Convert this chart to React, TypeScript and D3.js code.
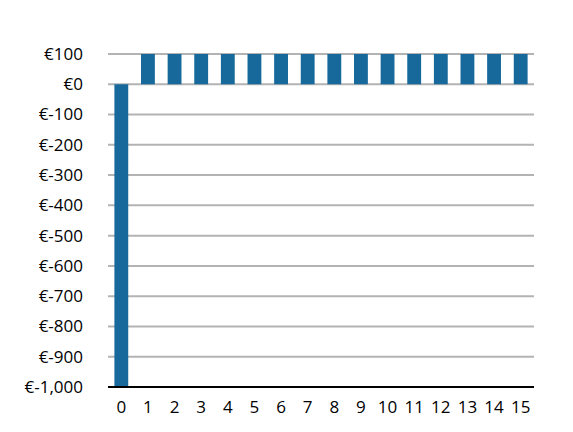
import React from 'react';
import * as d3 from 'd3';

const years = d3.range(0, 16).map(String);
const cashFlow = [-1000, 100, 100, 100, 100, 100, 100, 100, 100, 100, 100, 100, 100, 100, 100, 100];
const yTicks = [100, 0, -100, -200, -300, -400, -500, -600, -700, -800, -900, -1000];

const W = 573;
const H = 432;
const margin = { top: 54, right: 39, bottom: 45, left: 108 };

export default function App() {
  const x = d3.scaleBand()
    .domain(years)
    .range([margin.left, W - margin.right])
    .paddingInner(0.48)
    .paddingOuter(0.24);
  const y = d3.scaleLinear()
    .domain([-1000, 100])
    .range([H - margin.bottom, margin.top]);

  // plain hyphen instead of d3's unicode minus, as in the original
  const fmt = (v: number) => '€' + d3.format(',')(v).replace('\u2212', '-');

  return (
    <svg width={W} height={H} style={{ position: 'absolute', left: 0, top: 0 }}
      fontFamily="'Open Sans', sans-serif">
      {yTicks.filter(t => t !== -1000).map(t => (
        <line key={t} x1={margin.left} x2={W - margin.right} y1={y(t)} y2={y(t)}
          stroke="#b3b3b3" strokeWidth={2} />
      ))}
      {cashFlow.map((v, i) => (
        <rect key={i} x={x(years[i])} width={x.bandwidth()}
          y={y(Math.max(0, v))} height={Math.abs(y(v) - y(0))} fill="#17699c" />
      ))}
      <line x1={margin.left} x2={W - margin.right} y1={y(-1000)} y2={y(-1000)}
        stroke="#000" strokeWidth={2} />
      {yTicks.map(t => (
        <text key={t} x={83} y={y(t)} dy="0.35em" textAnchor="end" fontSize={17} fill="#000">
          {fmt(t)}
        </text>
      ))}
      {years.map(yr => (
        <text key={yr} x={x(yr)! + x.bandwidth() / 2} y={H - margin.bottom + 26}
          textAnchor="middle" fontSize={17} fill="#000">{yr}</text>
      ))}
    </svg>
  );
}
